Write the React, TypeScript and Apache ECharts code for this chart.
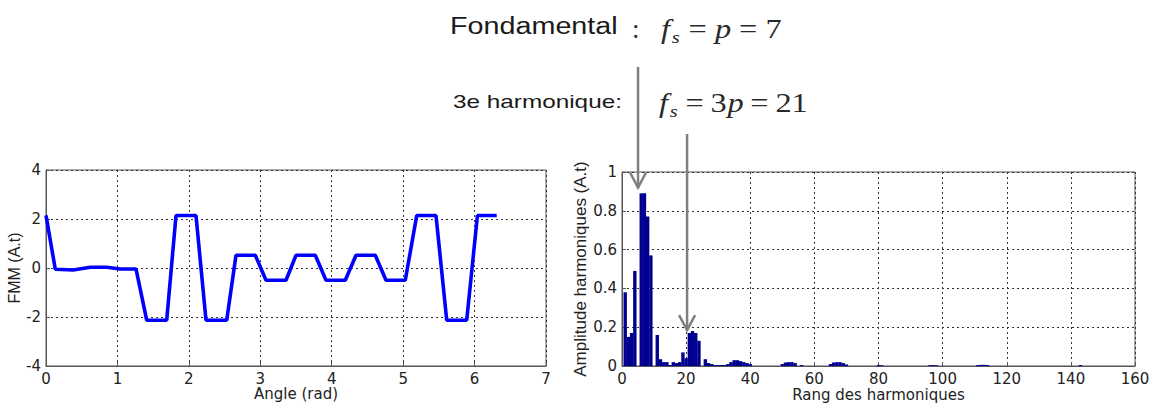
import React, { useEffect, useRef } from "react";
import * as echarts from "echarts";

// ---- Left plot: FMM vs angle ----
const angleRad = [0, 0.13, 0.38, 0.62, 0.85, 1.04, 1.26, 1.41, 1.69, 1.82, 2.1, 2.24, 2.53, 2.66, 2.93, 3.08, 3.36, 3.5, 3.77, 3.92, 4.19, 4.34, 4.61, 4.76, 5.03, 5.19, 5.46, 5.61, 5.89, 6.04, 6.31];
const fmm = [2.15, -0.05, -0.08, 0.03, 0.03, -0.04, -0.04, -2.13, -2.13, 2.14, 2.14, -2.13, -2.13, 0.52, 0.52, -0.5, -0.5, 0.52, 0.52, -0.5, -0.5, 0.52, 0.52, -0.5, -0.5, 2.14, 2.14, -2.13, -2.13, 2.14, 2.14];

// ---- Right plot: harmonic amplitudes ----
const harmonicRank = [1, 2, 3, 4, 6, 7, 8, 9, 11, 12, 13, 14, 15, 16, 17, 18, 19, 20, 21, 22, 23, 24, 26, 27, 28, 29, 30, 31, 32, 33, 34, 35, 36, 37, 38, 39, 40, 50, 51, 52, 53, 54, 56, 65, 66, 67, 68, 69, 70, 80, 81, 96, 97, 98, 111, 112, 113, 114, 143];
const harmonicAmp = [0.38, 0.15, 0.17, 0.49, 0.89, 0.89, 0.77, 0.57, 0.16, 0.035, 0.02, 0.02, 0.005, 0.02, 0.015, 0.02, 0.07, 0.04, 0.17, 0.18, 0.17, 0.13, 0.035, 0.015, 0.01, 0.005, 0.005, 0.005, 0.005, 0.01, 0.02, 0.03, 0.03, 0.025, 0.02, 0.015, 0.01, 0.01, 0.018, 0.02, 0.02, 0.015, 0.005, 0.01, 0.018, 0.02, 0.02, 0.015, 0.008, 0.005, 0.004, 0.004, 0.005, 0.004, 0.005, 0.006, 0.006, 0.005, 0.005];

// ---- Axis ticks ----
const leftXTicks = { min: 0, max: 7, interval: 1 };
const leftYTicks = { min: -4, max: 4, interval: 2 };
const rightXTicks = { min: 0, max: 160, interval: 20 };
const rightYTicks = { min: 0, max: 1, interval: 0.2 };

// ---- Annotation arrows (data coords of the tips on the right plot) ----
const arrowRank = [5, 20.3];
const arrowTipAmp = [0.92, 0.185];
const arrowTopPx = [67, 134];

// ---- Texts ----
const leftXName = "Angle (rad)";
const leftYName = "FMM (A.t)";
const rightXName = "Rang des harmoniques";
const rightYName = "Amplitude harmoniques (A.t)";
const title1 = "Fondamental";
const title2 = "3e harmonique:";

const SANS = '"Liberation Sans", Arial, sans-serif';
const WIDE = '"DejaVu Sans", "Liberation Sans", sans-serif';
const SERIF = '"Liberation Serif", "Times New Roman", serif';
const TXT = "#222";
const GRIDC = "#555";

function axisCommon() {
  return {
    axisLine: { show: true, onZero: false, lineStyle: { color: GRIDC, width: 1 } },
    axisTick: { show: true, inside: true, length: 4, lineStyle: { color: GRIDC } },
    splitLine: { show: true, lineStyle: { color: "#333", type: [2, 3], width: 1 } },
    axisLabel: { color: TXT, fontFamily: WIDE, fontSize: 15, margin: 5, showMinLabel: true, showMaxLabel: true },
  };
}

function mathPiece(x: number, y: number, text: string, italic: boolean, size = 27) {
  return {
    type: "text",
    x,
    y,
    style: {
      text,
      fontFamily: SERIF,
      fontStyle: italic ? "italic" : "normal",
      fontSize: size,
      fill: "#2a2a2a",
      align: "left",
      verticalAlign: "middle",
    },
  };
}

export default function App() {
  const ref = useRef<HTMLDivElement>(null);
  useEffect(() => {
    if (!ref.current) return;
    const chart = echarts.init(ref.current, undefined, { renderer: "svg" });
    const option: any = {
      animation: false,
      backgroundColor: "#fff",
      grid: [
        { left: 46, top: 170, width: 500, height: 196, show: true, borderColor: GRIDC, borderWidth: 1 },
        { left: 622, top: 172, width: 513, height: 194, show: true, borderColor: GRIDC, borderWidth: 1 },
      ],
      xAxis: [
        {
          type: "value", gridIndex: 0, ...leftXTicks, ...axisCommon(),
          name: leftXName, nameLocation: "middle", nameGap: 19,
          nameTextStyle: { color: TXT, fontFamily: WIDE, fontSize: 15 },
        },
        {
          type: "value", gridIndex: 1, ...rightXTicks, ...axisCommon(),
          name: rightXName, nameLocation: "middle", nameGap: 21,
          nameTextStyle: { color: TXT, fontFamily: WIDE, fontSize: 15 },
        },
      ],
      yAxis: [
        {
          type: "value", gridIndex: 0, ...leftYTicks, ...axisCommon(),
          name: leftYName, nameLocation: "middle", nameGap: 21,
          nameTextStyle: { color: TXT, fontFamily: SANS, fontSize: 16 },
        },
        {
          type: "value", gridIndex: 1, ...rightYTicks, ...axisCommon(),
          name: rightYName, nameLocation: "middle", nameGap: 29,
          nameTextStyle: { color: TXT, fontFamily: SANS, fontSize: 17 },
        },
      ],
      series: [
        {
          type: "line",
          xAxisIndex: 0,
          yAxisIndex: 0,
          data: angleRad.map((a, i) => [a, fmm[i]]),
          showSymbol: false,
          lineStyle: { color: "#0000ff", width: 3.6 },
          itemStyle: { color: "#0000ff" },
        },
        {
          type: "bar",
          xAxisIndex: 1,
          yAxisIndex: 1,
          data: harmonicRank.map((r, i) => [r, harmonicAmp[i]]),
          barWidth: 3.4,
          itemStyle: { color: "#00008f" },
        },
      ],
    };
    chart.setOption(option);

    const arrows: any[] = [];
    arrowRank.forEach((r, i) => {
      const tip = chart.convertToPixel({ gridIndex: 1 } as any, [r, arrowTipAmp[i]]) as number[];
      const tx = tip[0];
      const ty = tip[1];
      arrows.push({
        type: "line",
        shape: { x1: tx, y1: arrowTopPx[i], x2: tx, y2: ty },
        style: { stroke: "#7f7f7f", lineWidth: 2.5 },
        z: 100,
      });
      arrows.push({
        type: "polyline",
        shape: { points: [[tx - 8, ty - 15], [tx, ty], [tx + 8, ty - 15]] },
        style: { stroke: "#7f7f7f", lineWidth: 2.5, fill: "none" },
        z: 100,
      });
    });

    const texts: any[] = [
      {
        type: "text", x: 450, y: 26, scaleX: 1.25,
        style: { text: title1, fontFamily: SANS, fontSize: 23, fill: "#1a1a1a", align: "left", verticalAlign: "middle" },
      },
      mathPiece(632, 29, ":", false),
      {
        type: "group", x: 661, y: 28, scaleX: 1.2,
        children: [
          mathPiece(0, 0, "f", true),
          mathPiece(9, 9, "s", true, 17),
          mathPiece(23, 0, "=", false),
          mathPiece(45, 0, "p", true),
          mathPiece(65, 0, "=", false),
          mathPiece(87, 0, "7", false),
        ],
      },
      {
        type: "text", x: 453, y: 101, scaleX: 1.28,
        style: { text: title2, fontFamily: SANS, fontSize: 19, fill: "#1a1a1a", align: "left", verticalAlign: "middle" },
      },
      {
        type: "group", x: 659, y: 102, scaleX: 1.2,
        children: [
          mathPiece(0, 0, "f", true),
          mathPiece(9, 9, "s", true, 17),
          mathPiece(22, 0, "=", false),
          mathPiece(43, 0, "3", false),
          mathPiece(57, 0, "p", true),
          mathPiece(76, 0, "=", false),
          mathPiece(97, 0, "21", false),
        ],
      },
    ];

    chart.setOption({ graphic: [...texts, ...arrows] });
    return () => chart.dispose();
  }, []);
  return (
    <div
      ref={ref}
      style={{ position: "absolute", left: 0, top: 0, width: 1158, height: 403, background: "#fff" }}
    />
  );
}
